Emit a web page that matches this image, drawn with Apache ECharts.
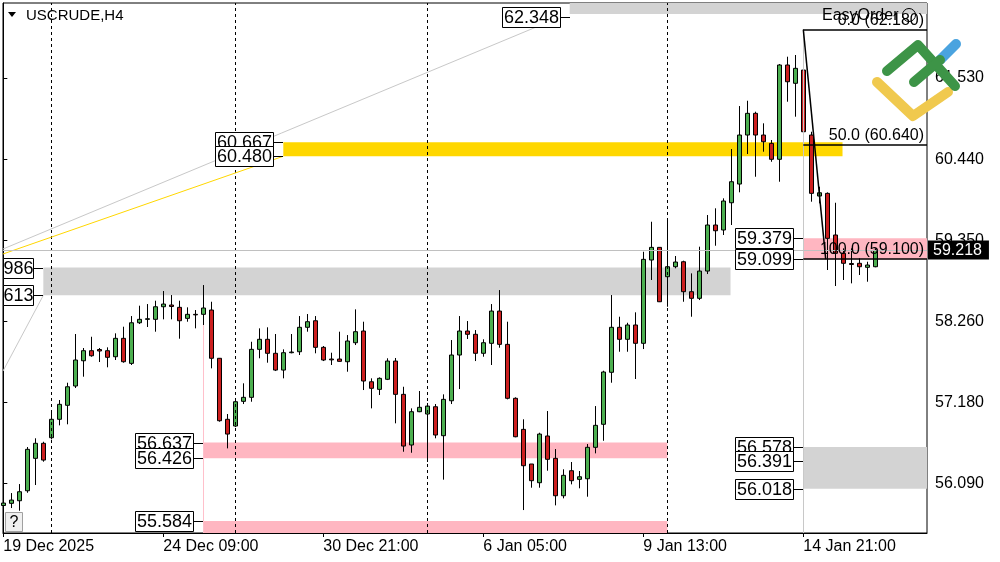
<!DOCTYPE html>
<html><head><meta charset="utf-8">
<script src="https://cdn.jsdelivr.net/npm/echarts@6/dist/echarts.min.js"></script>
<style>html,body{margin:0;padding:0;background:#fff}#c{width:1000px;height:562px}</style>
</head><body><div id="c"></div>
<script>
const FONT = '"Liberation Sans", Arial, sans-serif';
const symbolTitle = 'USCRUDE,H4';
const tickIndex = [0, 20, 40, 60, 80, 100];
const tickLabels = ['19 Dec 2025', '24 Dec 09:00', '30 Dec 21:00', '6 Jan 05:00', '9 Jan 13:00', '14 Jan 21:00'];
const priceTicks = [56.090, 57.180, 58.260, 59.350, 60.440, 61.530];
const separators = [6, 29, 53, 83];
const bid = 59.218;
// H4 bars: [open, close, low, high]
const candles = [
[55.792,55.825,55.758,55.946],[55.821,55.865,55.758,55.959],[55.856,55.977,55.722,56.080],[55.990,56.546,55.963,56.577],
[56.425,56.627,56.067,56.694],[56.627,56.402,56.380,56.648],[56.702,56.949,56.680,57.064],[56.949,57.150,56.868,57.208],
[57.137,57.386,56.882,57.440],[57.396,57.745,57.369,58.094],[57.735,57.870,57.521,57.906],[57.870,57.802,57.789,58.057],
[57.886,57.866,57.718,57.906],[57.870,57.781,57.647,57.915],[57.789,58.036,57.745,58.103],[58.036,57.722,57.709,58.192],
[57.700,58.245,57.678,58.335],[58.245,58.291,58.228,58.474],[58.291,58.299,58.188,58.496],[58.291,58.460,58.125,58.541],
[58.460,58.496,58.291,58.671],[58.483,58.463,58.291,58.617],[58.452,58.272,58.031,58.541],[58.304,58.358,58.259,58.452],
[58.358,58.351,58.170,58.416],[58.358,58.443,58.215,58.751],[58.416,57.768,57.633,58.527],[57.768,56.930,56.917,57.772],
[56.949,56.751,56.559,57.020],[56.859,57.185,56.845,57.231],[57.190,57.244,57.154,57.432],[57.244,57.888,57.185,57.990],
[57.888,58.023,57.768,58.170],[58.023,57.835,57.709,58.184],[57.835,57.610,57.597,58.094],[57.610,57.843,57.499,57.888],
[57.843,57.852,57.835,58.094],[57.856,58.184,57.812,58.335],[58.184,58.259,58.125,58.362],[58.272,57.915,57.835,58.335],
[57.915,57.745,57.731,57.933],[57.758,57.747,57.678,57.843],[57.758,57.727,57.722,58.125],[57.722,58.000,57.588,58.080],
[57.977,58.125,57.946,58.425],[58.134,57.463,57.342,58.259],[57.453,57.365,57.096,57.499],[57.351,57.499,57.275,57.512],
[57.486,57.731,57.476,57.768],[57.731,57.284,56.895,57.772],[57.284,56.590,56.514,57.386],[56.604,57.051,56.500,57.096],
[57.051,57.110,57.045,57.329],[57.020,57.127,56.376,57.168],[57.118,56.738,56.694,57.154],[56.729,57.217,56.139,57.284],
[57.198,57.812,57.154,58.013],[57.812,58.134,57.355,58.335],[58.134,58.090,58.027,58.268],[58.090,57.835,57.731,58.147],
[57.835,57.977,57.789,58.023],[57.969,58.402,57.678,58.496],[58.402,57.955,57.910,58.684],[57.955,57.231,57.217,58.259],
[57.231,56.715,56.708,57.244],[56.814,56.326,55.731,56.949],[56.349,56.125,56.031,56.349],[56.098,56.751,56.031,56.769],
[56.725,56.412,56.259,57.060],[56.425,55.923,55.794,56.550],[55.923,56.197,55.888,56.278],[56.259,56.125,56.076,56.376],
[56.143,56.178,56.023,56.255],[56.151,56.573,55.910,56.617],[56.573,56.868,56.492,57.127],[56.882,57.584,56.661,57.601],
[57.580,58.184,57.440,58.617],[58.184,58.023,57.856,58.326],[58.023,58.215,57.856,58.245],[58.215,57.969,57.490,58.385],
[57.969,59.096,57.892,59.198],[59.087,59.257,58.819,59.601],[59.257,58.527,58.523,59.261],[58.863,58.997,58.460,59.647],
[58.997,59.060,58.976,59.141],[59.064,58.662,58.527,59.078],[58.662,58.573,58.326,58.908],[58.573,58.939,58.550,59.266],
[58.939,59.557,58.899,59.691],[59.557,59.480,59.279,59.781],[59.490,59.879,59.423,59.915],[59.856,60.138,59.557,60.577],
[60.107,60.765,59.996,61.154],[60.765,61.056,60.510,61.225],[61.056,60.765,60.205,61.078],[60.765,60.675,60.541,60.922],
[60.653,60.439,60.406,60.698],[60.439,61.705,60.138,61.718],[61.705,61.480,61.212,61.816],[61.459,61.660,61.011,61.839],
[61.637,60.809,60.765,62.180],[60.765,59.982,59.870,60.809],[59.946,59.990,59.848,60.071],[59.982,59.378,58.953,59.995],
[59.423,59.177,58.738,59.856],[59.177,59.043,58.819,59.244],[59.040,59.027,58.774,59.244],[59.043,58.997,58.886,59.110],
[58.989,59.020,58.796,59.064],[58.997,59.218,58.990,59.244]
];
const X_MIN = -0.04, X_MAX = 115.46, Y_MIN = 55.423, Y_MAX = 62.537;
// zones: [fromBar, toBar, priceA, priceB, colour]
const zones = [
  [70.8, X_MAX, 62.390, Y_MAX, '#d3d3d3'],
  [5, 90.9, 58.986, 58.613, '#d3d3d3'],
  [35, 104.9, 60.667, 60.480, '#ffd700'],
  [25, 83, 56.637, 56.426, '#ffb6c1'],
  [25, 83, 55.584, Y_MIN, '#ffb6c1'],
  [100, X_MAX, 59.379, 59.099, '#ffb6c1'],
  [100, X_MAX, 56.578, 56.018, '#d3d3d3']
];
// price tags: [text, bar of zone edge, price, clipped]
const tags = [
  ['62.348', 70.8, 62.348, false],
  ['60.667', 35, 60.667, false], ['60.480', 35, 60.480, false],
  ['986', 5, 58.986, true], ['613', 5, 58.613, true],
  ['56.637', 25, 56.637, false], ['56.426', 25, 56.426, false], ['55.584', 25, 55.584, false],
  ['59.379', 100, 59.379, false], ['59.099', 100, 59.099, false],
  ['56.578', 100, 56.578, false], ['56.391', 100, 56.391, false], ['56.018', 100, 56.018, false]
];
const fibLevels = [[62.180, '0.0 (62.180)'], [60.640, '50.0 (60.640)'], [59.100, '100.0 (59.100)']];
const fibBase = [[100, 62.180], [102.8, 59.100]];
// trend lines: [[x1,y1],[x2,y2], colour]
const trends = [
  [[X_MIN, 59.235], [69.6, 62.348], '#c8c8c8'],
  [[X_MIN, 59.168], [35, 60.480], '#ffd700'],
  [[X_MIN, 57.597], [5, 58.613], '#c8c8c8'],
  [[25, 58.215], [25, Y_MIN], '#ffc0cb'],
  [[100, 62.180], [100, Y_MIN], '#c8c8c8']
];

const chart = echarts.init(document.getElementById('c'), null, {renderer: 'canvas'});
const markLineData = [];
separators.forEach(s => markLineData.push({xAxis: s, lineStyle: {color: '#000', width: 1, type: [3, 3]}}));
trends.forEach(t => markLineData.push([{coord: t[0], lineStyle: {color: t[2], width: 1, type: 'solid'}}, {coord: t[1]}]));
fibLevels.forEach(f => markLineData.push([{coord: [100, f[0]], lineStyle: {color: '#000', width: 1.5, type: 'solid'}}, {coord: [X_MAX, f[0]]}]));
markLineData.push([{coord: fibBase[0], lineStyle: {color: '#000', width: 1.5, type: 'solid'}}, {coord: fibBase[1]}]);
markLineData.push({yAxis: bid, lineStyle: {color: '#c0c0c0', width: 1, type: 'solid'},
  label: {show: true, position: 'end', formatter: bid.toFixed(3), color: '#fff', backgroundColor: '#000',
    padding: [2, 7, 1, 5], fontSize: 16, fontFamily: FONT, distance: 1}});

const option = {
  animation: false,
  backgroundColor: '#fff',
  grid: {left: 3, right: 73, top: 3, bottom: 29, show: true, borderColor: '#000', borderWidth: 1, backgroundColor: '#fff'},
  xAxis: {
    type: 'value', min: X_MIN, max: X_MAX,
    axisLine: {show: true, lineStyle: {color: '#000', width: 1}},
    axisTick: {show: true, customValues: tickIndex, length: 4, lineStyle: {color: '#000'}},
    axisLabel: {customValues: tickIndex, align: 'left', margin: 6, color: '#000', fontSize: 16, fontFamily: FONT,
      formatter: v => { const k = tickIndex.indexOf(Math.round(v)); return k >= 0 ? tickLabels[k] : ''; }},
    splitLine: {show: false}
  },
  yAxis: {
    type: 'value', position: 'right', min: Y_MIN, max: Y_MAX,
    axisLine: {show: true, lineStyle: {color: '#000', width: 1}},
    axisTick: {show: true, customValues: priceTicks, length: 4, lineStyle: {color: '#000'}},
    axisLabel: {customValues: priceTicks, margin: 8, color: '#000', fontSize: 16, fontFamily: FONT,
      formatter: v => v.toFixed(3)},
    splitLine: {show: false}
  },
  series: [{
    type: 'candlestick',
    data: candles.map((c, i) => [i, c[0], c[1], c[2], c[3]]),
    barWidth: 5,
    itemStyle: {color: '#4caf50', color0: '#cc1f1f', borderColor: '#000', borderColor0: '#000', borderWidth: 1},
    markArea: {silent: true, label: {show: false},
      data: zones.map(z => [{coord: [z[0], z[2]], itemStyle: {color: z[4], opacity: 1}}, {coord: [z[1], z[3]]}])},
    markLine: {silent: true, symbol: ['none', 'none'], label: {show: false}, data: markLineData}
  }]
};
chart.setOption(option);

const P = (x, y) => chart.convertToPixel({xAxisIndex: 0, yAxisIndex: 0}, [x, y]);
const g = [];
let z = 50;
tags.forEach(t => {
  const p = P(t[1], t[2]);
  const edge = Math.round(p[0]);
  const right = edge - 10;
  const left = t[3] ? 3 : right - 58;
  const cy = Math.round(p[1]);
  g.push({type: 'line', z: z, shape: {x1: right, y1: cy + 0.5, x2: edge, y2: cy + 0.5}, style: {stroke: '#000', lineWidth: 1}});
  g.push({type: 'rect', z: z, shape: {x: left + 0.5, y: cy - 9.5, width: right - left, height: 20}, style: {fill: '#fff', stroke: '#000', lineWidth: 1}});
  g.push({type: 'text', z: z + 1, style: {text: t[0], x: (left + right) / 2 + 0.5, y: cy + 1, font: '18px ' + FONT, fill: '#000', align: 'center', verticalAlign: 'middle', textAlign: 'center', textVerticalAlign: 'middle'}});
  z += 2;
});
fibLevels.forEach(f => {
  const p = P(X_MAX, f[0]);
  g.push({type: 'text', z: 90, style: {text: f[1], x: p[0] - 3, y: p[1] - 9, font: '16px ' + FONT, fill: '#000', align: 'right', verticalAlign: 'middle', textAlign: 'right', textVerticalAlign: 'middle'}});
});
// title
g.push({type: 'polygon', z: 90, shape: {points: [[8, 12], [16, 12], [12, 17]]}, style: {fill: '#000'}});
g.push({type: 'text', z: 90, style: {text: symbolTitle, x: 26, y: 16, font: '15px ' + FONT, fill: '#000', align: 'left', verticalAlign: 'middle', textAlign: 'left', textVerticalAlign: 'middle'}});
// Easy Order
g.push({type: 'text', z: 89, style: {text: 'EasyOrder', x: 822, y: 16, font: '16px ' + FONT, fill: '#000', align: 'left', verticalAlign: 'middle', textAlign: 'left', textVerticalAlign: 'middle'}});
g.push({type: 'circle', z: 89, shape: {cx: 909, cy: 15, r: 6.5}, style: {fill: 'none', stroke: '#000', lineWidth: 1}});
// help box
g.push({type: 'rect', z: 90, shape: {x: 5.5, y: 512.5, width: 17, height: 19}, style: {fill: '#f0f0f0', stroke: '#a0a0a0', lineWidth: 1}});
g.push({type: 'text', z: 91, style: {text: '?', x: 14, y: 523, font: '16px ' + FONT, fill: '#000', align: 'center', verticalAlign: 'middle', textAlign: 'center', textVerticalAlign: 'middle'}});
// logo
const logoStroke = (pts, col) => g.push({type: 'polyline', z: 95, shape: {points: pts}, style: {stroke: col, lineWidth: 10, lineCap: 'round', lineJoin: 'round', fill: 'none'}});
logoStroke([[877, 82], [913, 116], [948, 92]], '#f0c94e');
logoStroke([[887, 71], [918, 45], [955, 86]], '#3d9447');
logoStroke([[940, 60], [956, 44]], '#4aa3df');
logoStroke([[914, 82], [940, 60]], '#3d9447');
chart.setOption({graphic: g});
</script></body></html>
